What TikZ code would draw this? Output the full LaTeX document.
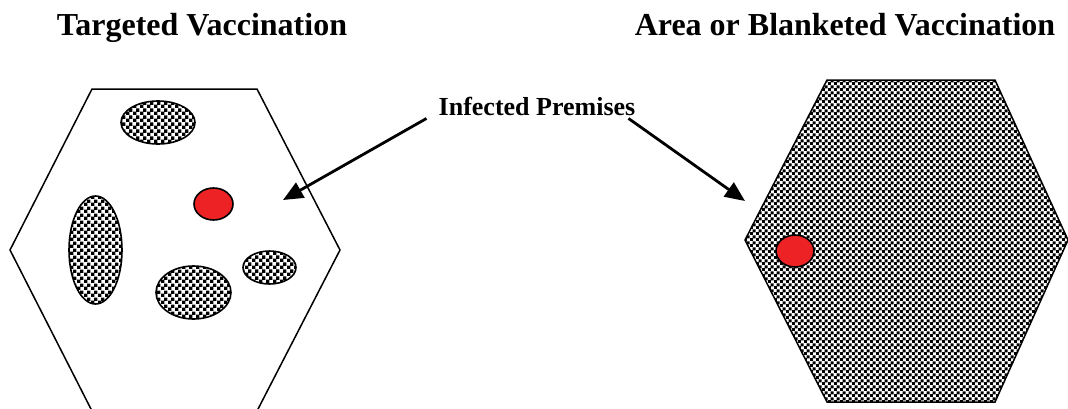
\documentclass[tikz,border=0pt]{standalone}
\usepackage{fontspec}
\setmainfont{Liberation Serif}
\usetikzlibrary{arrows.meta,patterns}

\definecolor{infectred}{RGB}{237,34,36}

\pgfdeclarepatternformonly{checkbig}{\pgfpointorigin}{\pgfqpoint{7pt}{7pt}}{\pgfqpoint{7pt}{7pt}}{%
  \pgfpathrectangle{\pgfpointorigin}{\pgfqpoint{3.8pt}{3.8pt}}%
  \pgfpathrectangle{\pgfqpoint{3.5pt}{3.5pt}}{\pgfqpoint{3.8pt}{3.8pt}}%
  \pgfusepath{fill}}
\pgfdeclarepatternformonly{checksmall}{\pgfpointorigin}{\pgfqpoint{5.6pt}{5.6pt}}{\pgfqpoint{5.6pt}{5.6pt}}{%
  \pgfpathrectangle{\pgfpointorigin}{\pgfqpoint{3.1pt}{3.1pt}}%
  \pgfpathrectangle{\pgfqpoint{2.8pt}{2.8pt}}{\pgfqpoint{3.1pt}{3.1pt}}%
  \pgfusepath{fill}}

\begin{document}
\begin{tikzpicture}[
    x=1pt,y=-1pt,
    heading/.style={
      anchor=base,inner sep=2pt,
      font=\bfseries\fontsize{32}{38}\selectfont
    },
    callout/.style={
      anchor=base,inner sep=2pt,
      font=\bfseries\fontsize{26}{31}\selectfont
    },
    hexline/.style={draw,line width=1.5pt,line join=miter},
    checked/.style={draw,line width=1.6pt,pattern=checkbig},
    infected/.style={draw,line width=1.6pt,fill=infectred},
    pointer/.style={
      line width=2.8pt,
      -{Triangle[length=20pt,width=17pt]}
    }
  ]
    \useasboundingbox (0,0) rectangle (1068,408);

    \node[heading] (TitleTarget) at (202,35) {Targeted Vaccination};
    \node[heading] (TitleArea) at (845,35) {Area or Blanketed Vaccination};
    \node[callout] (Infected) at (537,115) {Infected Premises};

    % targeted zone
    \draw[hexline] (92,89) -- (257,89) -- (340,250) -- (257,411)
      -- (92,411) -- (10,250) -- cycle;
    \draw[checked] (158,122.5) ellipse [x radius=37pt,y radius=21.5pt];
    \draw[checked] (95.5,250) ellipse [x radius=26.5pt,y radius=54pt];
    \draw[checked] (193.5,292.5) ellipse [x radius=37.5pt,y radius=26.5pt];
    \draw[checked] (269.5,267.5) ellipse [x radius=26.5pt,y radius=16.5pt];
    \draw[infected] (213.5,204) ellipse [x radius=19.5pt,y radius=16pt];

    % blanket zone
    \draw[hexline,pattern=checksmall] (827,80) -- (995,80) -- (1068,240)
      -- (995,402) -- (827,402) -- (745,240) -- cycle;
    \draw[infected] (795,251) ellipse [x radius=19pt,y radius=16pt];

    \coordinate (TipTarget) at (283,200);
    \coordinate (TipArea) at (745,201);
    \draw[pointer] ([xshift=-10pt,yshift=-1pt]Infected.south west) -- (TipTarget);
    \draw[pointer] ([xshift=-9pt,yshift=-1pt]Infected.south east) -- (TipArea);
  \end{tikzpicture}
\end{document}
